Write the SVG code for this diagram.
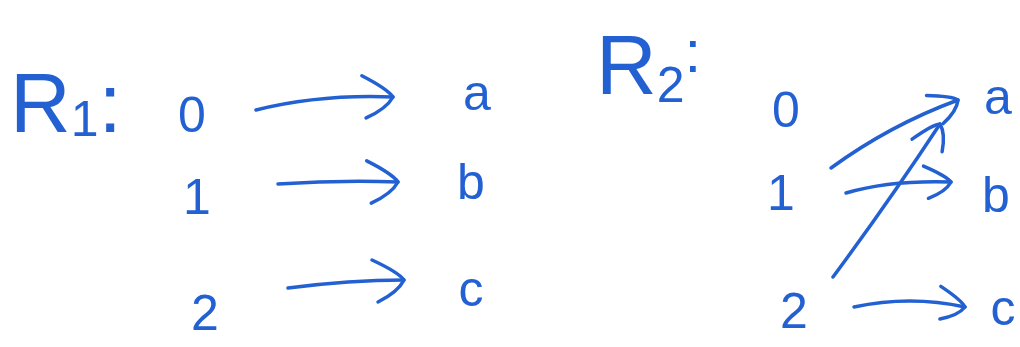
<svg xmlns="http://www.w3.org/2000/svg" width="1020" height="347" viewBox="0 0 1020 347">
<style>
text{font-family:"Liberation Sans","DejaVu Sans",sans-serif;fill:#2361d3;}
.n{font-size:50px;text-anchor:middle;}
.t{font-size:84px;}
.e{fill:none;stroke:#2361d3;stroke-width:3.5;stroke-linecap:round;stroke-linejoin:round;marker-end:url(#h);}
.s{marker-end:url(#hs);}
</style>
<defs>
<marker id="h" markerUnits="userSpaceOnUse" markerWidth="60" markerHeight="60" viewBox="-45 -30 60 60" refX="0" refY="0" orient="auto">
<path d="M-32,-20 Q-6,-8 0,0 Q-6,12 -26,22" fill="none" stroke="#2361d3" stroke-width="3.5" stroke-linecap="round" stroke-linejoin="round"/>
</marker>
<marker id="hs" markerUnits="userSpaceOnUse" markerWidth="60" markerHeight="60" viewBox="-45 -30 60 60" refX="0" refY="0" orient="auto">
<path d="M-28,-15 Q-5,-6 0,0 Q-5,10 -22,17" fill="none" stroke="#2361d3" stroke-width="3.5" stroke-linecap="round" stroke-linejoin="round"/>
</marker>
</defs>
<rect width="1020" height="347" fill="#ffffff"/>
<g id="title1"><text class="t" x="10" y="132">R<tspan font-size="50" dy="4">1</tspan><tspan dy="-4">:</tspan></text></g>
<g id="title2"><text class="t" x="596" y="94">R<tspan font-size="50" dy="8">2</tspan><tspan font-size="60" dy="-30">:</tspan></text></g>
<g id="l0"><text class="n" x="192" y="132">0</text></g>
<g id="l1"><text class="n" x="197" y="214">1</text></g>
<g id="l2"><text class="n" x="205" y="330">2</text></g>
<g id="la"><text class="n" x="477" y="110">a</text></g>
<g id="lb"><text class="n" x="471" y="199">b</text></g>
<g id="lc"><text class="n" x="471" y="306">c</text></g>
<g id="r0"><text class="n" x="786" y="127">0</text></g>
<g id="r1"><text class="n" x="781" y="210">1</text></g>
<g id="r2"><text class="n" x="794" y="328">2</text></g>
<g id="ra"><text class="n" x="998" y="114">a</text></g>
<g id="rb"><text class="n" x="996" y="212">b</text></g>
<g id="rc"><text class="n" x="1003" y="325">c</text></g>
<g id="connectors">
<path class="e" d="M256,110 Q320,94 393,97"/>
<path class="e" d="M278,184 Q340,180 398,182"/>
<path class="e" d="M288,288 Q350,280 404,280"/>
<path class="e s" d="M831,168 Q890,125 958,100"/>
<path class="e s" d="M833,277 Q890,200 940,124"/>
<path class="e s" d="M846,193 Q890,180 951,182"/>
<path class="e s" d="M854,307 Q910,295 965,307"/>
</g>
</svg>
